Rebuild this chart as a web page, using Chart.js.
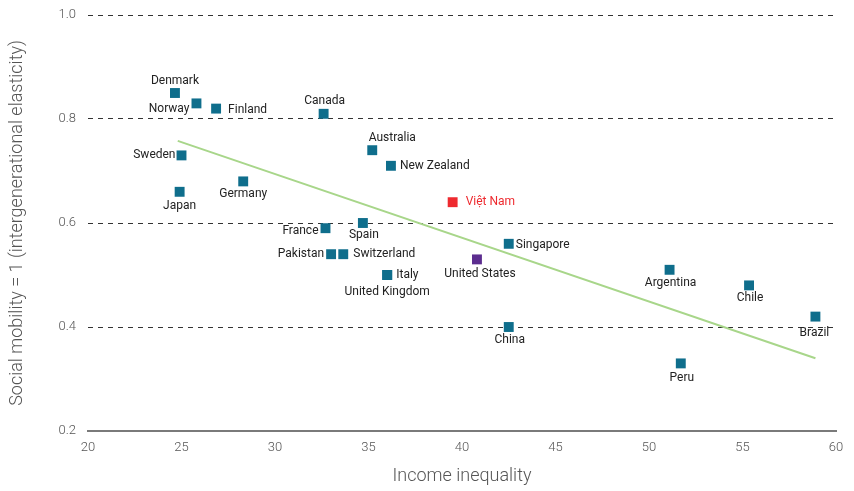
<!DOCTYPE html>
<html>
<head>
<meta charset="utf-8">
<script src="https://cdn.jsdelivr.net/npm/chart.js@4/dist/chart.umd.min.js"></script>
<style>
  html, body { margin: 0; padding: 0; background: #ffffff; }
  #wrap { width: 854px; height: 491px; position: relative; }
</style>
</head>
<body>
<div id="wrap"><canvas id="c" width="854" height="491"></canvas></div>
<script>
// ---- Data ----
const countries = ["Denmark","Norway","Finland","Canada","Sweden","Japan","Germany","Australia","New Zealand","Việt Nam","France","Spain","Pakistan","Switzerland","Italy","United Kingdom","United States","Singapore","China","Argentina","Chile","Brazil","Peru"];
const inequality = [24.65, 25.8, 26.85, 32.6, 25.0, 24.9, 28.3, 35.2, 36.2, 39.5, 32.7, 34.7, 33.0, 33.65, 36.0, 36.0, 40.8, 42.5, 42.5, 51.1, 55.35, 58.9, 51.7];
const mobility = [0.85, 0.83, 0.82, 0.81, 0.73, 0.66, 0.68, 0.74, 0.71, 0.64, 0.59, 0.60, 0.54, 0.54, 0.50, 0.50, 0.53, 0.56, 0.40, 0.51, 0.48, 0.42, 0.33];
const trendX = [24.8, 58.9];
const trendY = [0.758, 0.340];
const yTicks = [0.2, 0.4, 0.6, 0.8, 1.0];
const xTicks = [20, 25, 30, 35, 40, 45, 50, 55, 60];

// ---- Styles ----
const TEAL = "#0f6e8c", RED = "#ee2a2f", PURPLE = "#5c2d8f";
const pointColor = { "Việt Nam": RED, "United States": PURPLE };
const labelColor = { "Việt Nam": RED };
// [dx, dy, align]
const labelPlace = {
  "Denmark": [0, -12, "center"], "Norway": [-7, 6, "right"], "Finland": [12, 1, "left"],
  "Canada": [1, -13, "center"], "Sweden": [-6, 0, "right"], "Japan": [0, 14, "center"],
  "Germany": [0, 13, "center"], "Australia": [20, -12, "center"], "New Zealand": [9, 0, "left"],
  "Việt Nam": [13, 0, "left"], "France": [-7, 3, "right"], "Spain": [1, 12, "center"],
  "Pakistan": [-7, 0, "right"], "Switzerland": [10, 0, "left"], "Italy": [9, 0, "left"],
  "United Kingdom": [0, 17, "center"], "United States": [3, 15, "center"], "Singapore": [7, 1, "left"],
  "China": [1, 13, "center"], "Argentina": [1, 13, "center"], "Chile": [1, 13, "center"],
  "Brazil": [-1, 16, "center"], "Peru": [1, 15, "center"]
};

const labelPlugin = {
  id: "pointLabels",
  afterDatasetsDraw(chart) {
    const ctx = chart.ctx;
    const meta = chart.getDatasetMeta(1);
    ctx.save();
    ctx.font = "12px Roboto";
    ctx.textBaseline = "middle";
    meta.data.forEach((el, i) => {
      const name = countries[i];
      const p = labelPlace[name] || [0, 12, "center"];
      ctx.fillStyle = labelColor[name] || "#222222";
      ctx.textAlign = p[2];
      ctx.fillText(name, el.x + p[0], el.y + p[1]);
    });
    ctx.restore();
  }
};

const pts = inequality.map((x, i) => ({ x: x, y: mobility[i] }));
const trend = trendX.map((x, i) => ({ x: x, y: trendY[i] }));

new Chart(document.getElementById("c"), {
  type: "scatter",
  data: {
    datasets: [
      {
        type: "line",
        data: trend,
        borderColor: "#a8d68a",
        borderWidth: 2,
        pointRadius: 0,
        fill: false,
        showLine: true
      },
      {
        data: pts,
        pointStyle: "rect",
        pointRadius: 7,
        pointHoverRadius: 7,
        pointBorderWidth: 0,
        pointBackgroundColor: countries.map(n => pointColor[n] || TEAL),
        pointBorderColor: countries.map(n => pointColor[n] || TEAL)
      }
    ]
  },
  options: {
    responsive: false,
    animation: false,
    layout: { padding: { left: 0, right: 18, top: 15, bottom: 0 } },
    plugins: { legend: { display: false }, tooltip: { enabled: false } },
    scales: {
      x: {
        type: "linear",
        min: 20, max: 60,
        afterBuildTicks(scale) { scale.ticks = xTicks.map(v => ({ value: v })); },
        afterFit(scale) { scale.height = 60; scale.paddingLeft = 0; scale.paddingRight = 0; },
        grid: { display: false, drawTicks: false },
        border: { display: true, color: "#7a7a7a", width: 2 },
        ticks: { color: "#555555", font: { family: "Roboto", size: 13, weight: "300" }, padding: 9, maxRotation: 0 },
        title: { display: true, text: "Income inequality", color: "#555555", font: { family: "Roboto", size: 18, weight: "300" }, padding: { top: 3 } }
      },
      y: {
        type: "linear",
        min: 0.2, max: 1.0,
        afterBuildTicks(scale) { scale.ticks = yTicks.map(v => ({ value: v })); },
        afterFit(scale) { scale.width = 88; scale.paddingTop = 0; scale.paddingBottom = 0; },
        grid: {
          drawTicks: false,
          color: ctx => (ctx.tick && Math.abs(ctx.tick.value - 0.2) < 1e-6) ? "rgba(0,0,0,0)" : "#333333",
          lineWidth: 1
        },
        border: { display: false, dash: [5, 5] },
        ticks: { color: "#555555", font: { family: "Roboto", size: 13, weight: "300" }, padding: 12, callback: v => Number(v).toFixed(1) },
        title: { display: true, text: "Social mobility = 1 (intergenerational elasticity)", color: "#555555", font: { family: "Roboto", size: 18, weight: "300" }, padding: { top: 7, bottom: 6 } }
      }
    }
  },
  plugins: [labelPlugin]
});
</script>
</body>
</html>
